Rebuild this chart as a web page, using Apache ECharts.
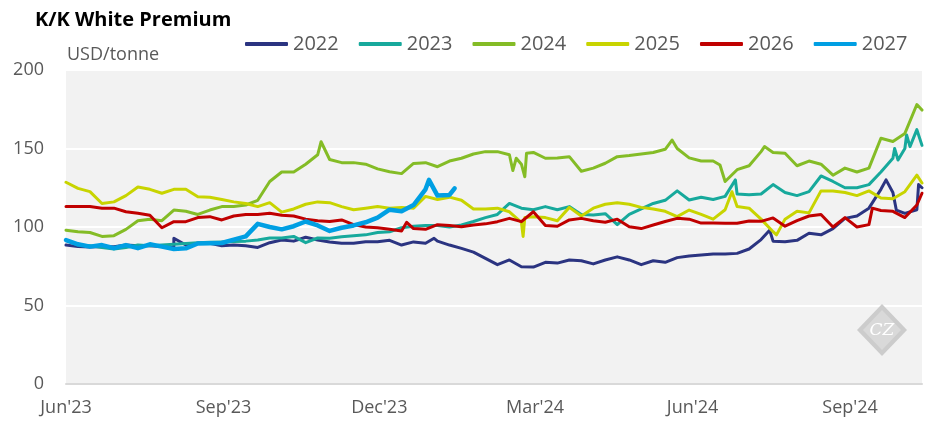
<!DOCTYPE html>
<html><head><meta charset="utf-8">
<script src="https://cdn.jsdelivr.net/npm/echarts@6/dist/echarts.min.js"></script>
<style>html,body{margin:0;padding:0;background:#fff}#c{width:945px;height:443px}</style>
</head><body><div id="c"></div>
<script>
// ---- data ----
const seriesNames = ['2022','2023','2024','2025','2026','2027'];
const seriesColors = ['#2b3481','#17a99c','#84bc26','#c8d400','#c00000','#009fe3'];
const weekStart = '2023-06-01'; // weekly observations start here
const axisStart = '2023-06-01';
const axisEnd = '2024-10-13';

const v2022 = [88.5,87.5,87.3,87.5,87.5,88.5,88,88,87.5,87, 88.5,89.6,89.6,88,88.5,88,87,90,91.7,91,
  93.5,91.7,90.5,89.6,89.6,90.6,90.6,91.5,88.5,90.5, 89.6,91,88.5,86.4,84,80,76,79,74.7,74.5,
  77.5,77,79,78.5,76.5,79,81,79,76,78.5, 77.5,80.5,81.5,82.2,82.8,82.8,83.2,86,92,91,
  90.6,91.5,96,95,99,105.5,107,112,124,122, 108.7,111];
const x2022 = [['2023-08-03',92.8],['2024-01-02',92.8],['2024-07-16',98],['2024-09-22',130],['2024-09-28',110.8],['2024-10-11',127],['2024-10-13',125]];

const v2023 = [91.7,88.5,88,87,86,87,88.5,88,88.5,89, 89.5,90,90.3,90.5,90.8,91,91.7,93,93,94,
  90,93,92.8,93.8,94.5,95,96.5,97,99.5,100.5, 101,101,100,101.3,103.5,106,108,115,112,111,
  113,111,113,108,107.6,108.5,101.5,108,111.5,115, 117,123,117.2,119,117.5,119.5,121,120.5,121,127,
  122,120,122.5,132.5,129,125,125,127,135,143.8, 150,162];
const x2023 = [['2024-06-26',130],['2024-09-27',150],['2024-09-29',142.7],['2024-10-04',158.6],['2024-10-06',151.2],['2024-10-13',152]];

const v2024 = [98,97,96.5,94,94.5,98.5,104,105,104,110.8, 110,108,110.8,113,113,114,117,129,135,135,
  140,146,143,141,141,140,137,135.2,134,140.5, 141,138.4,142,143.8,146.5,148,148,146,140,147.5,
  143.8,144,144.8,135.5,137.5,140.6,144.8,145.5,146.5,147.5, 149.5,150,144,142,142,129,136.5,139,148,147.5,
  147,139,142,140,133,137.5,135,137.5,156.5,154.5, 159.6,178];
const x2024 = [['2023-10-28',154.3],['2024-02-17',136],['2024-02-19',143.8],['2024-02-24',132],['2024-02-25',147],['2024-05-20',155.4],['2024-06-17',139.5],['2024-07-13',151.2],['2024-10-13',174.5]];

const v2025 = [128.5,124.6,122.5,115,116,120,125.5,124,121.5,124, 124,119.3,119,117.5,116,115,113,115.5,109.5,111.5,
  114.5,116,115.5,113,111,112,113,112,112.5,112, 119.5,117.5,119,117,111.5,111.5,112,109.7,103,106.6,
  106,104,112.5,107,112,114.5,115.5,114.5,112.5,111.5, 110,106.6,110.8,108,105,111,113,112,105,97,
  105,110,109,123,123,122,120,123,118.5,118, 122.5,133];
const x2025 = [['2024-02-23',94],['2024-02-24',106],['2024-06-24',122.5],['2024-07-20',95],['2024-10-13',128]];

const v2026 = [113,113,113,112,112,109.7,108.7,107.5,99.5,103.4, 103.4,106,106.6,104.5,107,108,108,108.7,107.5,107,
  105,104,103.5,104.5,101.5,100,99.5,98.5,97.5,99, 98.5,101.5,101,100.2,101.3,102,103.4,105.5,103.4,109.7,
  101,100.5,104.5,105.5,104,103,105,100.2,99,101.3, 103.5,105.5,105,102.5,102.5,102.4,102.4,103.8,103.6,105.8,
  100.5,104,107,108,100,106,100,101.5,110.5,110, 106,114];
const x2026 = [['2023-12-17',103],['2024-09-14',112],['2024-10-13',121.5]];

const v2027 = [91.7,89,87.5,88.5,86.5,88.5,86.5,89,87.5,86, 86.4,89.5,89.6,89.8,92,94,102,100,98.5,100.5,
  103.5,101,97.5,99.5,101,103,106,111,110,114, 124,120,120.4];
const x2027 = [['2023-12-30',130],['2024-01-14',124.6]];

const xTickDates = ['2023-06-01','2023-09-01','2023-12-01','2024-03-01','2024-06-01','2024-09-01'];
const xTickLabels = ["Jun'23","Sep'23","Dec'23","Mar'24","Jun'24","Sep'24"];
const yMin = 0, yMax = 200, yStep = 50;

// ---- build ----
function parseDate(s){ const p = s.split('-').map(Number); return new Date(p[0], p[1]-1, p[2]).getTime(); }
function build(weekly, extras){
  const p = weekStart.split('-').map(Number);
  const pts = weekly.map((v,k)=>[new Date(p[0], p[1]-1, p[2] + 7*k).getTime(), v]);
  extras.forEach(e=>pts.push([parseDate(e[0]), e[1]]));
  pts.sort((a,b)=>a[0]-b[0]);
  return pts;
}
const allWeekly = [v2022,v2023,v2024,v2025,v2026,v2027];
const allExtra = [x2022,x2023,x2024,x2025,x2026,x2027];
const tickTimes = xTickDates.map(parseDate);

const chart = echarts.init(document.getElementById('c'), null, {renderer:'canvas'});
const FONT = '"Open Sans", sans-serif';
chart.setOption({
  animation:false,
  backgroundColor:'#ffffff',
  title:{text:'K/K White Premium', left:30, top:5,
    textStyle:{fontFamily:FONT, fontSize:20, fontWeight:'bold', color:'#000'}},
  legend:{data:seriesNames, left:240, top:29, icon:'roundRect', itemWidth:43, itemHeight:4, itemGap:20,
    textStyle:{fontFamily:FONT, fontSize:20, color:'#595959'}},
  grid:{left:66, right:23, top:70, bottom:59, show:true, backgroundColor:'#f2f2f2', borderWidth:0},
  xAxis:{type:'value', min:parseDate(axisStart), max:parseDate(axisEnd), scale:true,
    axisLine:{show:true, lineStyle:{color:'#d9d9d9', width:2}},
    axisTick:{show:false},
    splitLine:{show:false},
    axisLabel:{customValues:tickTimes, margin:15, fontFamily:FONT, fontSize:18, color:'#595959',
      formatter:function(v){ const i = tickTimes.indexOf(v); return i>=0 ? xTickLabels[i] : ''; }}},
  yAxis:{type:'value', min:yMin, max:yMax, interval:yStep,
    axisLine:{show:false}, axisTick:{show:false},
    splitLine:{show:true, lineStyle:{color:'#ffffff', width:2}},
    axisLabel:{margin:22, fontFamily:FONT, fontSize:18, color:'#595959'}},
  graphic:[
    {type:'text', left:67, top:46, style:{text:'USD/tonne', font:'18px "Open Sans", sans-serif', fill:'#595959'}},
    {type:'polygon', shape:{points:[[882,304],[907,330],[882,356],[857,330]]}, style:{fill:'#cccccc'}, z:1},
    {type:'polygon', shape:{points:[[882,310],[901,330],[882,350],[863,330]]}, style:{fill:'#d9d9d9'}, z:1},
    {type:'text', x:882, y:331, style:{text:'CZ', font:'italic 17px "DejaVu Serif", serif', fill:'#ffffff', align:'center', verticalAlign:'middle'}, z:2}
  ],
  series: seriesNames.map((n,i)=>({
    name:n, type:'line', showSymbol:false, symbol:'none', smooth:false,
    data: build(allWeekly[i], allExtra[i]),
    color: seriesColors[i],
    lineStyle:{width: n==='2027' ? 4.5 : 3, color: seriesColors[i], join:'round', cap:'round'},
    z: 2 + i
  }))
});
</script></body></html>
